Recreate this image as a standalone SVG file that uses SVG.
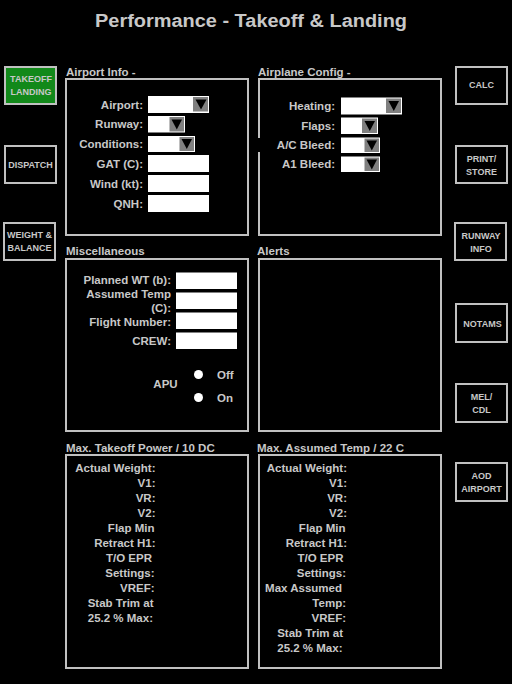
<svg xmlns="http://www.w3.org/2000/svg" width="512" height="684" viewBox="0 0 512 684">
<style>
text{font-family:"Liberation Sans",Arial,sans-serif;font-weight:bold;fill:#c8c8c8}
.t{font-size:18px}
.lbl{font-size:11.5px}
.fl{font-size:11.5px;text-anchor:end}
.btn text{font-size:9px;text-anchor:middle}
.btn rect{fill:#000;stroke:#c0c0c0;stroke-width:2}
.panel{fill:#000;stroke:#c0c0c0;stroke-width:2}
.in{fill:#fff}
.dd{fill:#808080}
.tri{fill:#000}
.radio{fill:#fff}
</style>
<rect x="0" y="0" width="512" height="684" fill="#000"/>
<text class="t" x="251" y="27" text-anchor="middle" textLength="312" lengthAdjust="spacingAndGlyphs">Performance - Takeoff &amp; Landing</text>

<!-- left nav buttons -->
<g id="btn-takeoff" class="btn"><rect x="5" y="67" width="51" height="37" style="fill:#12891a"/><text x="31" y="82">TAKEOFF</text><text x="31" y="95">LANDING</text></g>
<g id="btn-dispatch" class="btn"><rect x="5" y="146" width="51" height="37"/><text x="30.5" y="168">DISPATCH</text></g>
<g id="btn-weight" class="btn"><rect x="4" y="223" width="51" height="37"/><text x="29.5" y="238">WEIGHT &amp;</text><text x="29.5" y="251">BALANCE</text></g>

<!-- right nav buttons -->
<g id="btn-calc" class="btn"><rect x="456" y="67" width="51" height="37"/><text x="481.5" y="87.5">CALC</text></g>
<g id="btn-print" class="btn"><rect x="456" y="146" width="51" height="37"/><text x="481.5" y="161.5">PRINT/</text><text x="481.5" y="174.5">STORE</text></g>
<g id="btn-runway" class="btn"><rect x="455" y="223" width="51" height="37"/><text x="481" y="239">RUNWAY</text><text x="481" y="251.5">INFO</text></g>
<g id="btn-notams" class="btn"><rect x="456" y="304" width="51" height="38"/><text x="482.5" y="326.5">NOTAMS</text></g>
<g id="btn-mel" class="btn"><rect x="456" y="384" width="51" height="38"/><text x="481.5" y="400">MEL/</text><text x="481.5" y="412.5">CDL</text></g>
<g id="btn-aod" class="btn"><rect x="456" y="463" width="51" height="38"/><text x="481.5" y="478.5">AOD</text><text x="481.5" y="491.5">AIRPORT</text></g>

<!-- Airport Info -->
<g id="airport-info">
<text class="lbl" x="66" y="76">Airport Info -</text>
<rect class="panel" x="66" y="79" width="182" height="156"/>
<text class="fl" x="143" y="108.5">Airport:</text>
<rect class="in" x="148" y="96" width="61" height="17"/><rect class="dd" x="193" y="97" width="15" height="14.5"/><polygon class="tri" points="195.5,99.5 206.5,99.5 201,109.5"/>
<text class="fl" x="143" y="128">Runway:</text>
<rect class="in" x="148" y="116" width="37" height="16.5"/><rect class="dd" x="169.5" y="117" width="14.5" height="14.5"/><polygon class="tri" points="171.5,119.5 182,119.5 176.8,129.5"/>
<text class="fl" x="143" y="148">Conditions:</text>
<rect class="in" x="148" y="136" width="47" height="16"/><rect class="dd" x="179.5" y="137" width="14.5" height="14"/><polygon class="tri" points="181.5,139 192,139 186.8,149"/>
<text class="fl" x="143" y="167.5">GAT (C):</text>
<rect class="in" x="148" y="155" width="61" height="17"/>
<text class="fl" x="143" y="187.5">Wind (kt):</text>
<rect class="in" x="148" y="175" width="61" height="17"/>
<text class="fl" x="143" y="207.5">QNH:</text>
<rect class="in" x="148" y="195" width="61" height="17"/>
</g>

<!-- Airplane Config -->
<g id="airplane-config">
<text class="lbl" x="258" y="76">Airplane Config -</text>
<rect class="panel" x="259" y="79" width="182" height="156"/>
<rect x="257" y="138" width="4" height="14" fill="#000"/>
<text class="fl" x="335" y="110">Heating:</text>
<rect class="in" x="341" y="97.5" width="61" height="17"/><rect class="dd" x="386" y="98.5" width="15" height="14.5"/><polygon class="tri" points="388.5,101 399,101 393.8,111"/>
<text class="fl" x="335" y="130">Flaps:</text>
<rect class="in" x="341" y="117.5" width="37" height="16.5"/><rect class="dd" x="362" y="118.5" width="15" height="14.5"/><polygon class="tri" points="364.5,121 375,121 369.8,131"/>
<text class="fl" x="335" y="149">A/C Bleed:</text>
<rect class="in" x="341" y="137.5" width="39" height="15.5"/><rect class="dd" x="364.5" y="138.5" width="14.5" height="13.5"/><polygon class="tri" points="366.5,140.5 377,140.5 371.8,150.5"/>
<text class="fl" x="335" y="168">A1 Bleed:</text>
<rect class="in" x="341" y="156.5" width="39" height="15.5"/><rect class="dd" x="364.5" y="157.5" width="14.5" height="13.5"/><polygon class="tri" points="366.5,159.5 377,159.5 371.8,169.5"/>
</g>

<!-- Miscellaneous -->
<g id="miscellaneous">
<text class="lbl" x="66" y="255">Miscellaneous</text>
<rect class="panel" x="66" y="259" width="182" height="172"/>
<text class="fl" x="171" y="283.5">Planned WT (b):</text>
<rect class="in" x="176" y="272.5" width="61" height="16.5"/>
<text class="fl" x="171" y="297.5">Assumed Temp</text>
<text class="fl" x="171" y="311.5">(C):</text>
<rect class="in" x="176" y="292.5" width="61" height="16.5"/>
<text class="fl" x="171" y="325.5">Flight Number:</text>
<rect class="in" x="176" y="312.5" width="61" height="16.5"/>
<text class="fl" x="171" y="344.5">CREW:</text>
<rect class="in" x="176" y="332.5" width="61" height="16.5"/>
<text class="lbl" x="165.5" y="388" text-anchor="middle">APU</text>
<circle class="radio" cx="198.5" cy="374.5" r="4.5"/>
<circle class="radio" cx="198.5" cy="397.5" r="4.5"/>
<text class="lbl" x="217" y="378.5">Off</text>
<text class="lbl" x="217" y="402">On</text>
</g>

<!-- Alerts -->
<g id="alerts">
<text class="lbl" x="257" y="255">Alerts</text>
<rect class="panel" x="259" y="259" width="182" height="172"/>
</g>

<!-- Max Takeoff Power -->
<g id="max-takeoff">
<text class="lbl" x="66" y="452">Max. Takeoff Power / 10 DC</text>
<rect class="panel" x="66" y="455" width="182" height="213"/>
<text class="fl" x="155.5" y="471.5">Actual Weight:</text>
<text class="fl" x="155.5" y="486.5">V1:</text>
<text class="fl" x="155.5" y="501.5">VR:</text>
<text class="fl" x="155.5" y="516.5">V2:</text>
<text class="fl" x="154.5" y="531.5">Flap Min</text>
<text class="fl" x="155.5" y="546.5">Retract H1:</text>
<text class="fl" x="152" y="561.5">T/O EPR</text>
<text class="fl" x="154.5" y="576.5">Settings:</text>
<text class="fl" x="154.5" y="591.5">VREF:</text>
<text class="fl" x="153.5" y="606.5">Stab Trim at</text>
<text class="fl" x="153" y="621.5">25.2 % Max:</text>
</g>

<!-- Max Assumed Temp -->
<g id="max-assumed">
<text class="lbl" x="257" y="452">Max. Assumed Temp / 22 C</text>
<rect class="panel" x="259" y="455" width="182" height="213"/>
<text class="fl" x="347" y="472">Actual Weight:</text>
<text class="fl" x="347" y="487">V1:</text>
<text class="fl" x="347" y="502">VR:</text>
<text class="fl" x="347" y="517">V2:</text>
<text class="fl" x="345.5" y="532">Flap Min</text>
<text class="fl" x="347" y="547">Retract H1:</text>
<text class="fl" x="343.5" y="562">T/O EPR</text>
<text class="fl" x="346" y="577">Settings:</text>
<text class="fl" x="342" y="592">Max Assumed</text>
<text class="fl" x="346" y="607">Temp:</text>
<text class="fl" x="346" y="622">VREF:</text>
<text class="fl" x="343" y="637">Stab Trim at</text>
<text class="fl" x="342.5" y="652">25.2 % Max:</text>
</g>

<g id="connectors"></g>
</svg>
